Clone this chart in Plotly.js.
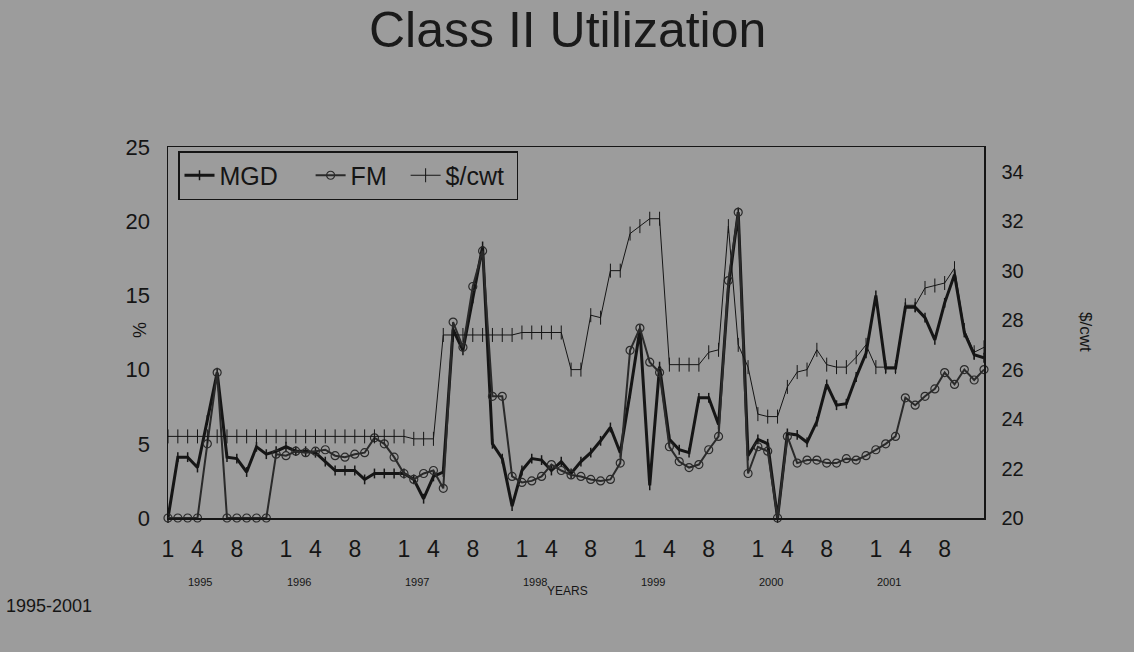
<!DOCTYPE html>
<html>
<head>
<meta charset="utf-8">
<script src="https://cdn.plot.ly/plotly-3.0.1.min.js"></script>
<style>
html,body{margin:0;padding:0;background:#9c9c9c;}
#chart{width:1134px;height:652px;}
</style>
</head>
<body>
<div id="chart"></div>
<script>
// ---- data ----
const years = ['1995','1996','1997','1998','1999','2000','2001'];
const monthTickText = ['1','4','8'];
const monthTickMonth = [1,4,8];
const seriesNames = ['MGD', 'FM', '$/cwt'];

// Class II utilization, % (left axis), monthly Jan 1995 - Dec 2001
const mgd = [
  0, 4.1, 4.1, 3.4, 6.6, 9.8, 4.1, 4.0, 3.1, 4.8, 4.3, 4.5,
  4.8, 4.5, 4.5, 4.4, 3.8, 3.2, 3.2, 3.2, 2.6, 3.0, 3.0, 3.0,
  3.0, 2.6, 1.3, 2.8, 3.1, 12.7, 11.3, 14.8, 18.3, 5.0, 4.0, 0.8,
  3.2, 4.0, 3.9, 3.2, 3.8, 3.0, 3.8, 4.4, 5.2, 6.1, 4.4, 8.4,
  12.7, 2.2, 10.2, 5.3, 4.6, 4.4, 8.1, 8.1, 6.3, 15.5, 20.6, 4.2,
  5.3, 5.0, 0, 5.7, 5.6, 5.1, 6.5, 9.0, 7.6, 7.7, 9.5, 11.1,
  15.0, 10.1, 10.1, 14.2, 14.2, 13.5, 12.0, 14.5, 16.4, 12.5, 11.0, 10.8
];
const fm = [
  0, 0, 0, 0, 5.0, 9.8, 0, 0, 0, 0, 0, 4.3,
  4.2, 4.5, 4.4, 4.5, 4.6, 4.2, 4.1, 4.3, 4.4, 5.4, 5.0, 4.1,
  3.0, 2.6, 3.0, 3.2, 2.0, 13.2, 11.5, 15.6, 18.0, 8.2, 8.2, 2.8,
  2.4, 2.5, 2.8, 3.6, 3.2, 2.9, 2.8, 2.6, 2.5, 2.6, 3.7, 11.3,
  12.8, 10.5, 9.8, 4.8, 3.8, 3.4, 3.6, 4.6, 5.5, 16.0, 20.6, 3.0,
  4.8, 4.5, 0, 5.5, 3.7, 3.9, 3.9, 3.7, 3.7, 4.0, 3.9, 4.2,
  4.6, 5.0, 5.5, 8.1, 7.6, 8.2, 8.7, 9.8, 9.0, 10.0, 9.3, 10.0
];
// Class II price, $/cwt (right axis)
const cwt = [
  23.3, 23.3, 23.3, 23.3, 23.3, 23.3, 23.3, 23.3, 23.3, 23.3, 23.3, 23.3,
  23.3, 23.3, 23.3, 23.3, 23.3, 23.3, 23.3, 23.3, 23.3, 23.3, 23.3, 23.3,
  23.3, 23.2, 23.2, 23.2, 27.4, 27.4, 27.4, 27.4, 27.4, 27.4, 27.4, 27.4,
  27.5, 27.5, 27.5, 27.5, 27.5, 26.0, 26.0, 28.2, 28.1, 30.0, 30.0, 31.5,
  31.8, 32.1, 32.1, 26.2, 26.2, 26.2, 26.2, 26.7, 26.8, 31.8, 27.0, 26.1,
  24.2, 24.1, 24.1, 25.3, 25.9, 26.0, 26.8, 26.2, 26.1, 26.1, 26.5, 27.0,
  26.1, 26.1, 26.1, 28.6, 28.6, 29.3, 29.4, 29.5, 30.1, 27.6, 26.7, 26.9
];

// ---- chart ----
const x = mgd.map((_, i) => i);
const tickvals = [], ticktext = [];
years.forEach((y, k) => monthTickMonth.forEach((m, j) => {
  tickvals.push(k * 12 + m - 1); ticktext.push(monthTickText[j]);
}));

const FONT = 'Liberation Sans, Arial, sans-serif';
const INK = '#151515';
const BG = '#9c9c9c';
const NB = '\u00a0';
// extra spacing after legend names so entries sit where the original's do
const legendPad = [NB.repeat(4), NB.repeat(2), NB.repeat(1)];

const traces = [
  {x, y: mgd, name: seriesNames[0] + legendPad[0], type: 'scatter', mode: 'lines+markers', cliponaxis: false,
   line: {color: INK, width: 3}, marker: {symbol: 'line-ns-open', size: 7, line: {color: INK, width: 1.5}}},
  {x, y: fm, name: seriesNames[1] + legendPad[1], type: 'scatter', mode: 'lines+markers', cliponaxis: false,
   line: {color: '#2a2a2a', width: 2}, marker: {symbol: 'circle-open', size: 8, color: '#2a2a2a', line: {width: 1.2}}},
  {x, y: cwt, name: seriesNames[2] + legendPad[2], type: 'scatter', mode: 'lines+markers', yaxis: 'y2', cliponaxis: false,
   line: {color: INK, width: 1}, marker: {symbol: 'line-ns-open', size: 10, line: {color: INK, width: 1}}}
];

const L = 168, R = 150, T = 147, B = 134;
const H = 652 - T - B;
const py = p => (652 - B - p) / H;       // pixel row -> paper y
const px = p => (p - L) / (1134 - L - R); // pixel col -> paper x

const annotations = [
  {text: 'Class II Utilization', xref: 'paper', yref: 'paper', x: px(567), y: py(0), showarrow: false,
   xanchor: 'center', yanchor: 'top', font: {family: FONT, size: 50, color: '#1a1a1a'}},
  {text: 'YEARS', xref: 'paper', yref: 'paper', x: px(567), y: py(591), showarrow: false,
   xanchor: 'center', yanchor: 'middle', font: {family: FONT, size: 12, color: INK}},
  {text: '1995-2001', xref: 'paper', yref: 'paper', x: px(4), y: py(606), xanchor: 'left', yanchor: 'middle',
   showarrow: false, font: {family: FONT, size: 18, color: INK}},
  {text: '%', xref: 'paper', yref: 'paper', x: px(140), y: py(330), textangle: -90, showarrow: false,
   xanchor: 'center', yanchor: 'middle', font: {family: FONT, size: 18, color: INK}},
  {text: '$/cwt', xref: 'paper', yref: 'paper', x: px(1086), y: py(332), textangle: 90, showarrow: false,
   xanchor: 'center', yanchor: 'middle', font: {family: FONT, size: 17, color: INK}}
];
years.forEach((y, k) => annotations.push({
  text: y, xref: 'x', yref: 'paper', x: k === 0 ? 3.3 : k * 12 + 1.3, y: py(582), showarrow: false,
  xanchor: 'center', yanchor: 'middle', font: {family: FONT, size: 11, color: INK}
}));

const layout = {
  width: 1134, height: 652,
  margin: {l: L, r: R, t: T, b: B},
  paper_bgcolor: BG, plot_bgcolor: BG,
  font: {family: FONT, color: INK},
  showlegend: true,
  legend: {x: px(178), y: py(151), xanchor: 'left', yanchor: 'top', orientation: 'h',
           bgcolor: BG, bordercolor: INK, borderwidth: 1.5,
           font: {family: FONT, size: 25, color: INK}, itemwidth: 30, tracegroupgap: 0},
  xaxis: {range: [0, 83], tickvals, ticktext, ticks: '', showgrid: false, zeroline: false,
          showline: true, linecolor: INK, linewidth: 1.5, mirror: true,
          tickfont: {family: FONT, size: 23, color: INK}, ticklabelstandoff: 10},
  yaxis: {range: [0, 25], dtick: 5, ticks: '', showgrid: false, zeroline: false,
          showline: true, linecolor: INK, linewidth: 1.5, mirror: true,
          tickfont: {family: FONT, size: 22, color: INK}, ticklabelstandoff: 12},
  yaxis2: {range: [20, 35], tickvals: [20,22,24,26,28,30,32,34], overlaying: 'y', side: 'right',
           ticks: '', showgrid: false, zeroline: false, showline: true, linecolor: INK, linewidth: 1.5,
           tickfont: {family: FONT, size: 20, color: INK}, ticklabelstandoff: 12},
  annotations
};

Plotly.newPlot('chart', traces, layout, {displayModeBar: false, staticPlot: true});
</script>
</body>
</html>
